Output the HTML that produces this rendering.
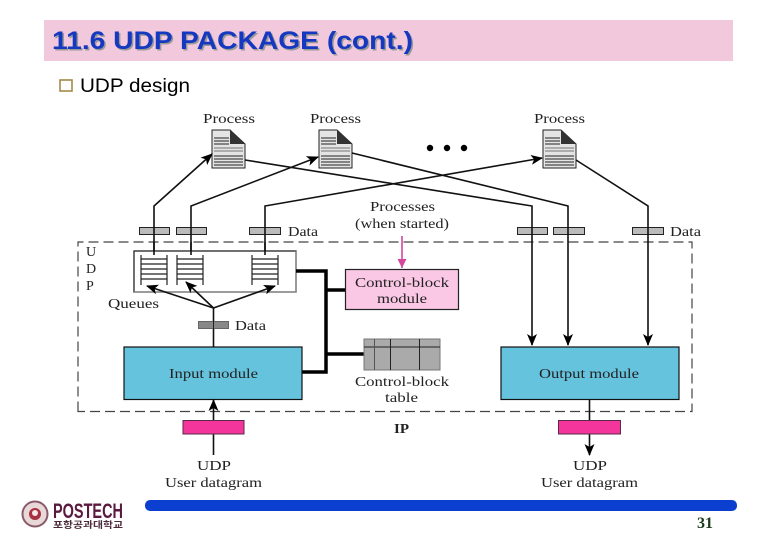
<!DOCTYPE html>
<html><head><meta charset="utf-8"><style>
html,body{margin:0;padding:0;background:#fff}
svg{display:block}
.s{font-family:"Liberation Serif",serif;font-size:14px;fill:#222}
.l{stroke:#111;stroke-width:1.6;fill:none}
.t{stroke:#000;stroke-width:3.5;fill:none}
.q{stroke:#222;stroke-width:1.2;fill:none}
.b{fill:#bbb;stroke:#222;stroke-width:1}
.m{fill:#66c3de;stroke:#111;stroke-width:1.2}
.p{fill:#f4369c;stroke:#5a2a4a;stroke-width:1}
.d{fill:#e4e4e4;stroke:#222;stroke-width:1}
</style></head><body>
<svg width="780" height="540" viewBox="0 0 780 540" xmlns="http://www.w3.org/2000/svg">
<defs>
<marker id="a" markerWidth="12" markerHeight="10" refX="11" refY="5" orient="auto" markerUnits="userSpaceOnUse"><path d="M0 0L12 5L0 10L3 5Z" fill="#000"/></marker>
<marker id="k" markerWidth="10" markerHeight="10" refX="9" refY="4.5" orient="auto" markerUnits="userSpaceOnUse"><path d="M0 0L9 4.5L0 9Z" fill="#d4479a"/></marker>
<g id="doc">
<path class="d" d="M0 0H18L33 14V38H0Z"/>
<path d="M18 0L33 14H18Z" fill="#333"/>
<path d="M2 8H17M2 11H17M2 14H17M2 26H31M2 29H31M2 32H31M2 35H31" stroke="#222" stroke-width="1"/>
<path d="M2 18H31M2 21H31" stroke="#999" stroke-width="1.5"/>
</g>
<g id="qq"><path class="q" d="M0 0V30M26 0V30M0 4H26M0 9H26M0 14H26M0 19H26M0 24H26"/></g>
</defs>

<rect x="44" y="20" width="689" height="41" fill="#f2c9dc"/>
<text x="53.500" y="50.500" textLength="361" lengthAdjust="spacingAndGlyphs" font-family="Liberation Sans,sans-serif" font-weight="bold" font-size="25" fill="#999">11.6 UDP PACKAGE (cont.)</text>
<text x="52" y="49" textLength="361" lengthAdjust="spacingAndGlyphs" font-family="Liberation Sans,sans-serif" font-weight="bold" font-size="25" fill="#1538c0">11.6 UDP PACKAGE (cont.)</text>
<rect x="60" y="80" width="12" height="11" fill="none" stroke="#a58a4a" stroke-width="1.6"/>
<text x="80" y="92" textLength="110" lengthAdjust="spacingAndGlyphs" font-family="Liberation Sans,sans-serif" font-size="19" fill="#000">UDP design</text>

<!-- dashed UDP boundary -->
<path d="M78 411.5V242H692V411.5Z" fill="none" stroke="#444" stroke-width="1.2" stroke-dasharray="10 5"/>

<!-- documents -->
<use href="#doc" x="212" y="130"/>
<use href="#doc" x="319" y="130"/>
<use href="#doc" x="543" y="130"/>
<circle cx="430" cy="148" r="3.2" fill="#000"/>
<circle cx="447" cy="148" r="3.2" fill="#000"/>
<circle cx="464" cy="148" r="3.2" fill="#000"/>

<!-- upward lines -->
<path class="l" d="M154 255V206L212 154" marker-end="url(#a)"/>
<path class="l" d="M191 255V206L318 157" marker-end="url(#a)"/>
<path class="l" d="M265 255V206L542 158" marker-end="url(#a)"/>
<!-- downward lines -->
<path class="l" d="M245 160L532 206V345" marker-end="url(#a)"/>
<path class="l" d="M352 153L568 206V345" marker-end="url(#a)"/>
<path class="l" d="M576 160L648 206V345" marker-end="url(#a)"/>

<!-- data bars -->
<rect class="b" x="139.500" y="227.500" width="30" height="7"/>
<rect class="b" x="176.500" y="227.500" width="30" height="7"/>
<rect class="b" x="249.500" y="227.500" width="31" height="7"/>
<rect class="b" x="517.500" y="227.500" width="30" height="7"/>
<rect class="b" x="553.500" y="227.500" width="31" height="7"/>
<rect class="b" x="632.500" y="227.500" width="31" height="7"/>
<path class="l" d="M154 227V235M191 227V235M265 227V235M532 227V235M568 227V235M648 227V235"/>

<!-- queues box -->
<rect x="134" y="251" width="162" height="41" fill="#fff" stroke="#222" stroke-width="1.3"/>
<path d="M134 292H296V251" fill="none" stroke="#888" stroke-width="1.3"/>
<use href="#qq" x="141" y="255"/>
<use href="#qq" x="177" y="255"/>
<use href="#qq" x="252" y="255"/>
<path class="l" d="M154 242V255M191 242V255M265 242V255"/>

<!-- thick connectors -->
<path class="t" d="M296 271H326V372H302"/>
<path class="t" d="M326 290H345"/>
<path class="t" d="M326 354H364"/>

<!-- control-block module -->
<rect x="345.500" y="269.500" width="113" height="40" fill="#fac8e4" stroke="#222" stroke-width="1.2"/>
<path d="M402 236V268" stroke="#d4479a" stroke-width="1.6" fill="none" marker-end="url(#k)"/>

<!-- control-block table -->
<rect x="364" y="339" width="76" height="31" fill="#aaa" stroke="#777" stroke-width="1"/>
<path d="M364 347H440M390.500 339V370M419.500 339V370" stroke="#222" stroke-width="1"/>
<path d="M374.500 339V370" stroke="#555" stroke-width="1"/>

<!-- queue arrows -->
<path class="l" d="M213.500 347V308"/>
<path class="l" d="M213.500 308L147 286" marker-end="url(#a)"/>
<path class="l" d="M213.500 308L186 282" marker-end="url(#a)"/>
<path class="l" d="M213.500 308L275 286" marker-end="url(#a)"/>
<rect x="198.500" y="321.500" width="30" height="7" fill="#888" stroke="#666"/>
<path d="M213.500 321V329" stroke="#222" stroke-width="1"/>

<!-- modules -->
<rect class="m" x="124" y="347" width="178" height="52.500"/>
<rect class="m" x="501" y="347" width="178" height="52.500"/>

<!-- IP -->
<path class="l" d="M213.500 455V400" marker-end="url(#a)"/>
<path class="l" d="M589.500 400V455" marker-end="url(#a)"/>
<rect class="p" x="183" y="420.500" width="61" height="13.500"/>
<rect class="p" x="558.500" y="420.500" width="62" height="13.500"/>

<!-- labels -->
<text class="s" x="203" y="123" textLength="52" lengthAdjust="spacingAndGlyphs">Process</text>
<text class="s" x="310" y="123" textLength="51" lengthAdjust="spacingAndGlyphs">Process</text>
<text class="s" x="534" y="123" textLength="51" lengthAdjust="spacingAndGlyphs">Process</text>
<text class="s" x="288" y="236" textLength="30" lengthAdjust="spacingAndGlyphs">Data</text>
<text class="s" x="670" y="236" textLength="31" lengthAdjust="spacingAndGlyphs">Data</text>
<text class="s" x="235" y="330" textLength="31" lengthAdjust="spacingAndGlyphs">Data</text>
<text class="s" x="370" y="211" textLength="65" lengthAdjust="spacingAndGlyphs">Processes</text>
<text class="s" x="355" y="228" textLength="94" lengthAdjust="spacingAndGlyphs">(when started)</text>
<text class="s" x="355" y="287" textLength="94" lengthAdjust="spacingAndGlyphs">Control-block</text>
<text class="s" x="377" y="303" textLength="50" lengthAdjust="spacingAndGlyphs">module</text>
<text class="s" x="355" y="386" textLength="94" lengthAdjust="spacingAndGlyphs">Control-block</text>
<text class="s" x="385" y="402" textLength="33" lengthAdjust="spacingAndGlyphs">table</text>
<text class="s" x="169" y="378" textLength="89" lengthAdjust="spacingAndGlyphs">Input module</text>
<text class="s" x="539" y="378" textLength="100" lengthAdjust="spacingAndGlyphs">Output module</text>
<text class="s" x="86" y="256">U</text>
<text class="s" x="86" y="273">D</text>
<text class="s" x="86" y="290">P</text>
<text class="s" x="108" y="308" textLength="51" lengthAdjust="spacingAndGlyphs">Queues</text>
<text class="s" x="394" y="433" textLength="15" lengthAdjust="spacingAndGlyphs" font-weight="bold">IP</text>
<text class="s" x="197" y="470" textLength="34" lengthAdjust="spacingAndGlyphs">UDP</text>
<text class="s" x="165" y="487" textLength="97" lengthAdjust="spacingAndGlyphs">User datagram</text>
<text class="s" x="573" y="470" textLength="34" lengthAdjust="spacingAndGlyphs">UDP</text>
<text class="s" x="541" y="487" textLength="97" lengthAdjust="spacingAndGlyphs">User datagram</text>

<!-- footer -->
<rect x="145" y="500" width="592" height="11" rx="5" fill="#0a3fd0"/>
<text x="697" y="528" font-family="Liberation Serif,serif" font-weight="bold" font-size="16" fill="#1a3a1a">31</text>
<circle cx="35" cy="514" r="12.500" fill="#e8d8d8" stroke="#8a5a6a" stroke-width="2"/>
<circle cx="35" cy="514" r="6" fill="#a83040"/>
<circle cx="35" cy="513" r="3" fill="#f4e8e8"/>
<text x="53" y="518" textLength="70" lengthAdjust="spacingAndGlyphs" font-family="Liberation Sans,sans-serif" font-weight="bold" font-size="21" fill="#5a1a40">POSTECH</text>
<text x="53" y="528" textLength="70" lengthAdjust="spacingAndGlyphs" font-family="Liberation Sans,'Noto Sans CJK KR',sans-serif" font-weight="bold" font-size="9" fill="#4a2a3a">포항공과대학교</text>
</svg>
</body></html>
